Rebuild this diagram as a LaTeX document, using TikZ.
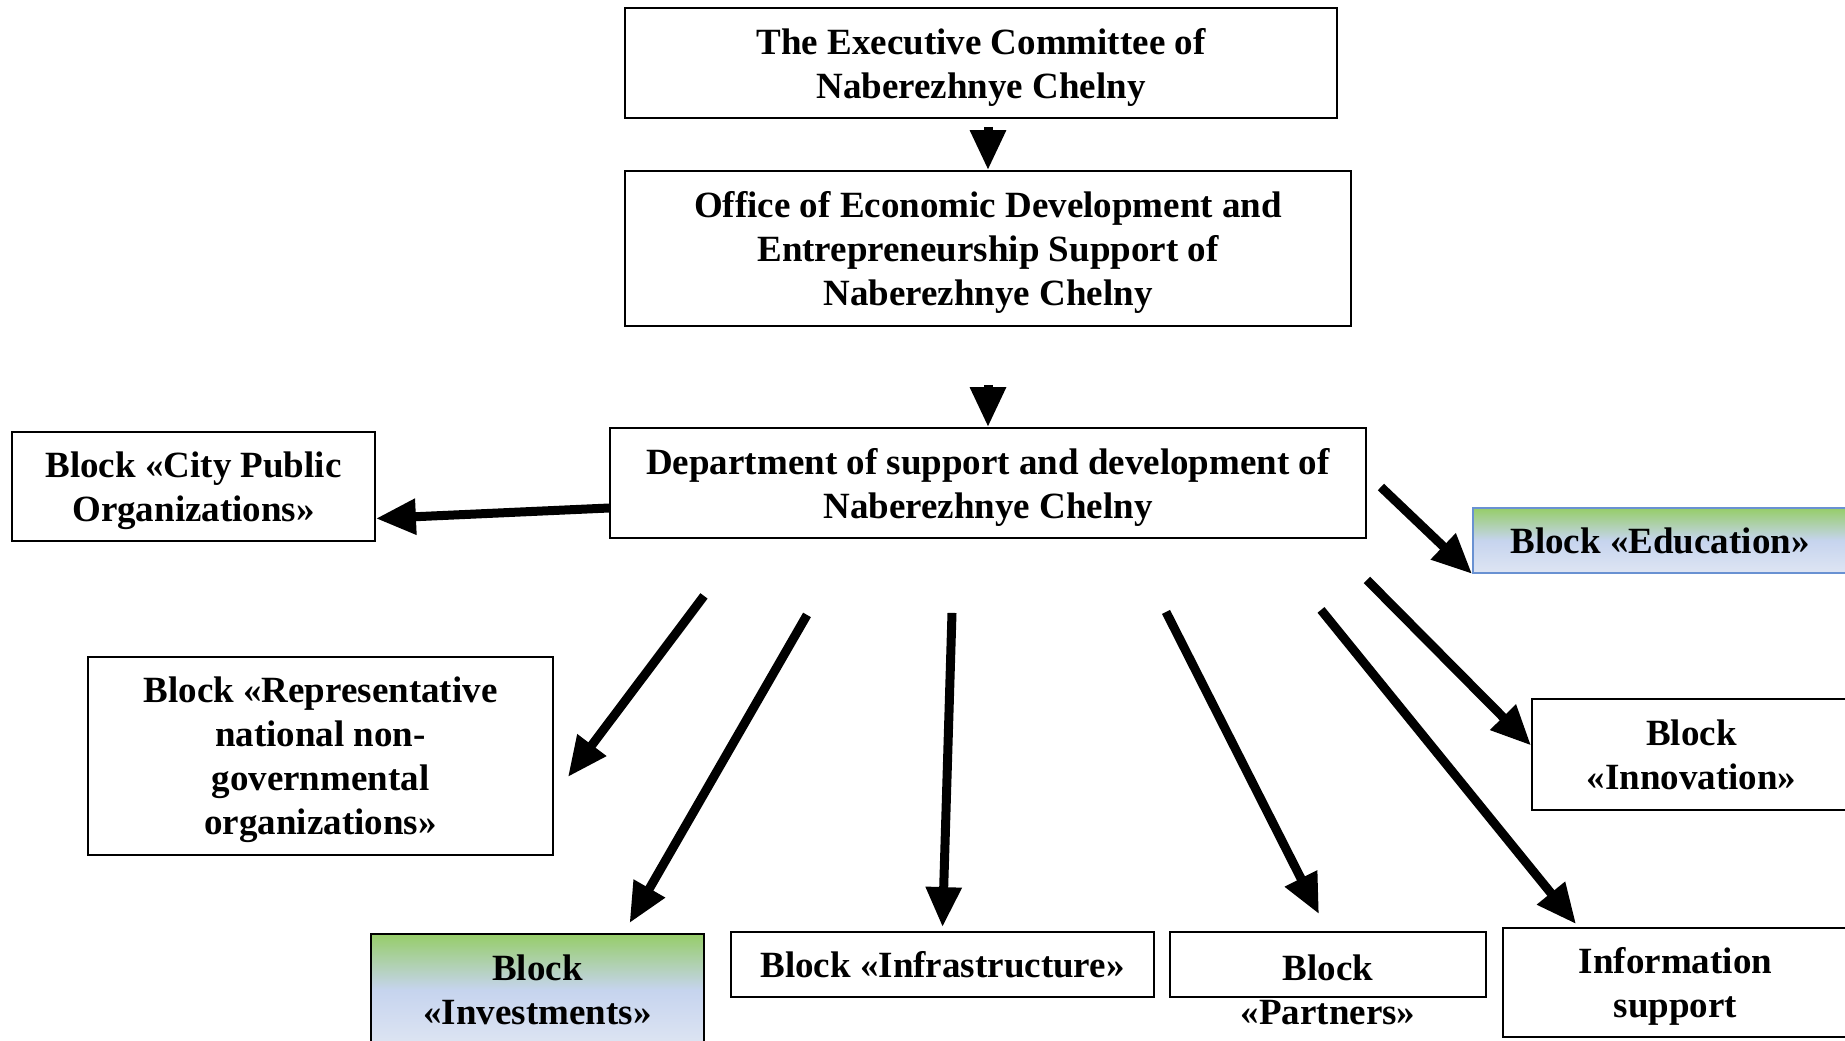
\documentclass[tikz,border=0pt]{standalone}
\usepackage{fontspec}
\setmainfont{Liberation Serif}
\usetikzlibrary{arrows.meta}
\definecolor{topg}{RGB}{150,205,105}
\definecolor{midb}{RGB}{198,212,238}
\definecolor{botb}{RGB}{222,229,243}
\definecolor{edge}{RGB}{105,145,210}
\begin{document}
\begin{tikzpicture}[x=1pt,y=-1pt,
  blk/.style={draw, line width=1.8pt, inner sep=0pt, align=center, font=\fontsize{37}{44}\selectfont\bfseries},
  txt/.style={inner sep=0pt, align=center, font=\fontsize{37}{44}\selectfont\bfseries},
  low/.style={text depth=-2pt},
  grad/.style={top color=topg, bottom color=botb, middle color=midb},
  arr/.style={line width=9pt, -{Triangle[width=34pt,length=40pt]}}]
\useasboundingbox (0,0) rectangle (1845,1041);
\node[blk, low, minimum width=712pt, minimum height=110pt] (exec) at (981,63){The Executive Committee of\\Naberezhnye Chelny};
\node[blk, low, minimum width=726pt, minimum height=155pt] (office) at (988,248.5){Office of Economic Development and\\Entrepreneurship Support of\\Naberezhnye Chelny};
\node[blk, low, minimum width=756pt, minimum height=110pt] (dept) at (988,483){Department of support and development of\\Naberezhnye Chelny};
\node[blk, low, minimum width=363pt, minimum height=109pt] (city) at (193.5,486.5){Block «City Public\\Organizations»};
\node[blk, grad, draw=edge, minimum width=374pt, minimum height=65pt] (edu) at (1660,540.5){Block «Education»};
\node[blk, low, minimum width=465pt, minimum height=198pt] (repr) at (320.5,756){Block «Representative\\national non-\\governmental\\organizations»};
\node[blk, minimum width=319pt, minimum height=111pt] (innov) at (1691.5,754.5){Block\\«Innovation»};
\node[blk, grad, minimum width=333pt, minimum height=112pt] (inv) at (537.5,990){Block\\«Investments»};
\node[blk, minimum width=423pt, minimum height=65pt] (infra) at (942.5,964.5){Block «Infrastructure»};
\node[blk, minimum width=316pt, minimum height=65pt] (partners) at (1328,964.5){};
\node[txt] (partnerstxt) at (1328,990){Block\\«Partners»};
\node[blk, low, minimum width=345pt, minimum height=109pt] (info) at (1675.5,982.5){Information\\support};
\draw[arr] ([xshift=7pt,yshift=-8pt]exec.south) -- (office.north);
\draw[arr] ([yshift=-58pt]office.south) -- (dept.north);
\draw[arr] ([yshift=-25pt]dept.west) -- ([yshift=-32pt]city.east);
\draw[arr] ([xshift=14pt,yshift=-4pt]dept.east) -- (edu.south west);
\draw[arr] ([xshift=-284pt,yshift=-57pt]dept.south) -- ([xshift=14pt,yshift=-21pt]repr.east);
\draw[arr] ([xshift=-181pt,yshift=-76pt]dept.south) -- ([xshift=92pt,yshift=10pt]inv.north);
\draw[arr] ([xshift=-36pt,yshift=-74pt]dept.south) -- ([yshift=4pt]infra.north);
\draw[arr] ([xshift=178pt,yshift=-73pt]dept.south) -- ([xshift=-9pt,yshift=17pt]partners.north);
\draw[arr] ([xshift=333pt,yshift=-71pt]dept.south) -- ([xshift=74pt,yshift=3pt]info.north west);
\draw[arr] ([yshift=-41pt]dept.south east) -- ([yshift=9pt]innov.west);

\end{tikzpicture}
\end{document}
